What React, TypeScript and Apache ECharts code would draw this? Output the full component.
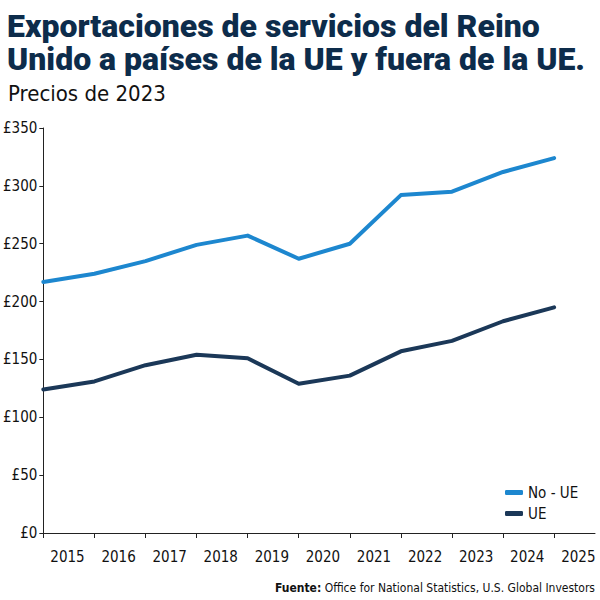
import React, { useEffect, useRef } from "react";
import * as echarts from "echarts";

const years = [2015, 2016, 2017, 2018, 2019, 2020, 2021, 2022, 2023, 2024, 2025];
const noUE = [217, 224, 235, 249, 257, 237, 250, 292, 295, 312, 324];
const ue = [124, 131, 145, 154, 151, 129, 136, 157, 166, 183, 195];

const TITLE_LINE_1 = "Exportaciones de servicios del Reino";
const TITLE_LINE_2 = "Unido a países de la UE y fuera de la UE.";
const SUBTITLE = "Precios de 2023";
const SOURCE_LABEL = "Fuente:";
const SOURCE_TEXT = " Office for National Statistics, U.S. Global Investors";

const FONT = "'Liberation Sans Narrow', 'DejaVu Sans Condensed', Roboto, sans-serif";

export default function App() {
  const ref = useRef<HTMLDivElement>(null);
  useEffect(() => {
    if (!ref.current) return;
    const chart = echarts.init(ref.current, undefined, { renderer: "svg" });
    const titleStyle = {
      fontFamily: "Roboto, sans-serif",
      fontWeight: 900,
      fontSize: 32,
      lineHeight: 31,
      color: "#0d2c4b",
    };
    chart.setOption({
      animation: false,
      backgroundColor: "#ffffff",
      textStyle: { fontFamily: FONT },
      title: [
        { text: TITLE_LINE_1, left: 7, top: 10, padding: 0, textStyle: titleStyle },
        { text: TITLE_LINE_2, left: 7, top: 43, padding: 0, textStyle: titleStyle },
        {
          text: SUBTITLE,
          left: 8,
          top: 82,
          padding: 0,
          textStyle: {
            fontFamily: FONT,
            fontWeight: "normal",
            fontSize: 22,
            color: "#111111",
          },
        },
        {
          text: "{b|" + SOURCE_LABEL + "}{n|" + SOURCE_TEXT + "}",
          right: 5,
          top: 582,
          padding: 0,
          textStyle: {
            rich: {
              b: { fontFamily: FONT, fontWeight: "bold", fontSize: 12, color: "#111" },
              n: { fontFamily: FONT, fontWeight: "normal", fontSize: 12, color: "#111" },
            },
          },
        },
      ],
      legend: {
        orient: "vertical",
        left: 505,
        top: 485,
        padding: 0,
        itemWidth: 18,
        itemHeight: 5,
        itemGap: 6,
        icon: "roundRect",
        textStyle: { fontFamily: FONT, fontSize: 15, color: "#111" },
        data: ["No - UE", "UE"],
      },
      grid: { left: 43, right: 5, top: 128, bottom: 67, containLabel: false },
      xAxis: {
        type: "value",
        min: 2015,
        max: 2025.8,
        interval: 1,
        splitLine: { show: false },
        axisLine: { show: true, lineStyle: { color: "#222", width: 1 } },
        axisTick: { show: true, length: 5, customValues: years, lineStyle: { color: "#222" } },
        axisLabel: {
          customValues: years,
          formatter: (v: number) => String(v),
          align: "left",
          padding: [0, 0, 0, 7],
          margin: 16,
          fontFamily: FONT,
          fontSize: 15,
          color: "#111",
        },
      },
      yAxis: {
        type: "value",
        min: 0,
        max: 350,
        interval: 50,
        splitLine: { show: false },
        axisLine: { show: true, lineStyle: { color: "#222", width: 1 } },
        axisTick: { show: true, length: 4, lineStyle: { color: "#222" } },
        axisLabel: {
          formatter: "£{value}",
          margin: 6,
          fontFamily: FONT,
          fontSize: 15,
          color: "#111",
        },
      },
      series: [
        {
          name: "No - UE",
          type: "line",
          data: years.map((y, i) => [y, noUE[i]]),
          symbol: "none",
          lineStyle: { width: 4, color: "#1d87cf", cap: "round", join: "round" },
          itemStyle: { color: "#1d87cf" },
        },
        {
          name: "UE",
          type: "line",
          data: years.map((y, i) => [y, ue[i]]),
          symbol: "none",
          lineStyle: { width: 4, color: "#1b3858", cap: "round", join: "round" },
          itemStyle: { color: "#1b3858" },
        },
      ],
    });
    return () => chart.dispose();
  }, []);
  return <div ref={ref} style={{ width: 600, height: 600, position: "absolute", left: 0, top: 0 }} />;
}
